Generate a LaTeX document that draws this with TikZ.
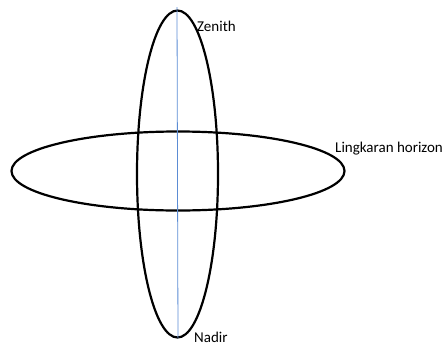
\documentclass[tikz,border=0pt]{standalone}
\usepackage{fontspec}
\setmainfont{Carlito}
\usetikzlibrary{shapes.geometric}
\definecolor{axisblue}{RGB}{91,140,212}
\tikzset{
  ring/.style={draw=black, line width=2.2pt, ellipse, inner sep=0pt},
  lbl/.style={anchor=base west, inner sep=0pt, font=\fontsize{15}{16}\selectfont},
}
\begin{document}
\begin{tikzpicture}[x=1pt,y=-1pt]
\useasboundingbox (0,0) rectangle (445,346);
\node[ring, minimum width=81pt, minimum height=327pt] (vert) at (177.5,174) {};
\node[ring, minimum width=333pt, minimum height=79pt] (hor) at (178,171) {};
\coordinate (top) at (177,7);
\coordinate (bot) at (178,338);
\draw[axisblue, line width=0.8pt] (top) -- (bot);
\node[lbl] (zen) at (197,31) {Zenith};
\node[lbl] (nad) at (194,342.5) {Nadir};
\node[lbl] (lh) at (335,152) {Lingkaran horizon};
\end{tikzpicture}
\end{document}
